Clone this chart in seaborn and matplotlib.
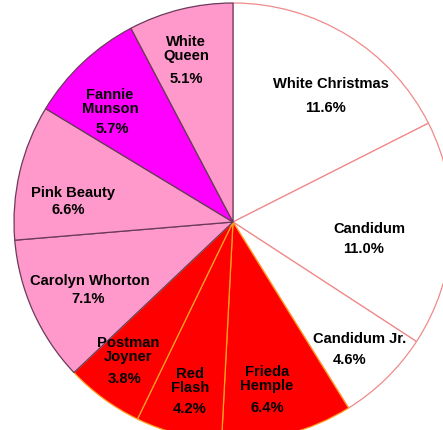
import matplotlib
matplotlib.use("Agg")
import matplotlib.pyplot as plt
import seaborn as sns

# data
cultivars = ["White Christmas", "Candidum", "Candidum Jr.", "Frieda Hemple", "Red Flash",
             "Postman Joyner", "Carolyn Whorton", "Pink Beauty", "Fannie Munson", "White Queen"]
label_names = ["White Christmas", "Candidum", "Candidum Jr.", "Frieda\nHemple", "Red\nFlash",
               "Postman\nJoyner", "Carolyn Whorton", "Pink Beauty", "Fannie\nMunson", "White\nQueen"]
percents = [11.6, 11.0, 4.6, 6.4, 4.2, 3.8, 7.1, 6.6, 5.7, 5.1]
color_group = ["white", "white", "white", "red", "red", "red", "pink", "pink", "magenta", "pink"]

# styles
fills = {"white": "#ffffff", "red": "#ff0000", "pink": "#ff99cc", "magenta": "#ff00ff"}
edges = {"white": "#f08a8a", "red": "#ffa020", "pink": "#6a3a5a", "magenta": "#6a3a5a"}

# label centers in pixels (name block center, percent center)
W, H = 443, 430
CX, CY, R = 233, 222, 219
name_px = [(331, 84), (369, 229), (360, 339), (267, 379), (190, 381),
           (128, 350), (90, 281), (73, 193), (110, 102), (186, 49)]
pct_px = [(325, 108), (364, 249), (350, 360), (267, 408), (190, 409),
          (125, 379), (88, 299), (68, 210), (112, 129), (186, 79)]

sns.set_theme(style="white")
plt.rcParams['font.family'] = ['Liberation Sans', 'DejaVu Sans']

fig = plt.figure(figsize=(W / 100, H / 100), dpi=100)
ax = fig.add_axes([0, 0, 1, 1])

wedges, _ = ax.pie(percents, startangle=90, counterclock=False, radius=1.0,
                   colors=[fills[g] for g in color_group],
                   wedgeprops=dict(linewidth=0.9))
for w, g in zip(wedges, color_group):
    w.set_edgecolor(edges[g])

def to_data(p):
    return (p[0] - CX) / R, (CY - p[1]) / R

for name, pct, npx, ppx in zip(label_names, percents, name_px, pct_px):
    x, y = to_data(npx)
    ax.text(x, y, name, ha="center", va="center", fontsize=10.6, fontweight="bold",
            color="black", linespacing=1.05)
    x, y = to_data(ppx)
    ax.text(x, y, f"{pct:.1f}%", ha="center", va="center", fontsize=10.6,
            fontweight="bold", color="black")

ax.set_xlim(-CX / R, (W - CX) / R)
ax.set_ylim(-(H - CY) / R, CY / R)
ax.set_aspect("auto")
ax.axis("off")

fig.savefig("out.png", dpi=100, facecolor="white")
